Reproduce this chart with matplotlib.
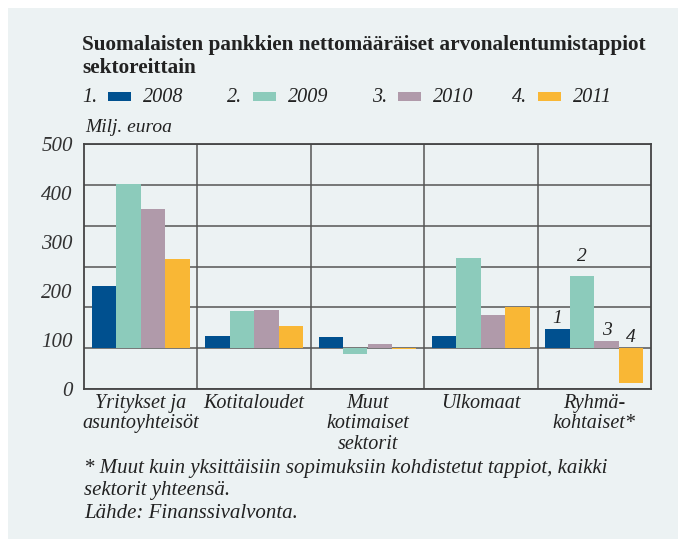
import numpy as np
import matplotlib.pyplot as plt
from matplotlib.patches import Rectangle

sectors = ['Yritykset ja\nasuntoyhteisöt', 'Kotitaloudet', 'Muut\nkotimaiset\nsektorit',
           'Ulkomaat', 'Ryhmä-\nkohtaiset*']
years = ['2008', '2009', '2010', '2011']
v2008 = [152, 29, 27, 29, 47]
v2009 = [402, 91, -15, 220, 176]
v2010 = [340, 93, 10, 81, 17]
v2011 = [218, 54, -3, 100, -86]
tick_labels = ['500', '400', '300', '200', '100', '0']

colors = ['#00508f', '#8ccbbb', '#b09aaa', '#f9b735']
bg = '#ecf2f3'
serif = ['Liberation Serif', 'DejaVu Serif']
plt.rcParams['font.family'] = serif

fig = plt.figure(figsize=(6.78, 5.39), dpi=100)
fig.patch.set_facecolor('white')
fig.patches.append(Rectangle((8 / 678, 0), 1, 1 - 8 / 539, transform=fig.transFigure,
                             facecolor=bg, edgecolor='none', zorder=-10))

ax = fig.add_axes([84 / 678, 1 - 389 / 539, 567 / 678, 245 / 539])
ax.set_facecolor(bg)

x = np.arange(len(sectors))
w = 0.216
series = [v2008, v2009, v2010, v2011]
for i, vals in enumerate(series):
    ax.bar(x + (i - 1.5) * w, vals, w, color=colors[i], zorder=3)

ax.set_xlim(-0.5, len(sectors) - 0.5)
ax.set_ylim(-100, 500)
for y in range(-100, 501, 100):
    ax.axhline(y, color='#555555', lw=1.1, zorder=2)
for b in np.arange(0.5, len(sectors) - 0.5, 1):
    ax.axvline(b, color='#555555', lw=1.1, zorder=2)
for s in ax.spines.values():
    s.set_color('#444444')
    s.set_linewidth(1.3)

# the original prints the labels evenly over the whole frame
ax.set_yticks(np.linspace(500, -100, 6))
ax.set_yticklabels(tick_labels, fontsize=15, style='italic', color='#333333')
ax.tick_params(axis='y', length=0, pad=8)
ax.set_xticks([])
for xi, name in zip(x, sectors):
    ax.text(xi, -112, name, ha='center', va='top', fontsize=14.5, style='italic',
            color='#222222', linespacing=1.1)

# numbers above the last group
offsets = [26, 49, 27, 27]
last = len(sectors) - 1
for i, vals in enumerate(series):
    ax.text(last + (i - 1.5) * w, max(vals[last], 0) + offsets[i], str(i + 1),
            ha='center', va='center', fontsize=14, style='italic', color='#222222')

fig.text(82 / 678, 1 - 45 / 539, 'Suomalaisten pankkien nettomääräiset arvonalentumistappiot',
         fontsize=15.3, fontweight='bold', va='center', color='#222222')
fig.text(82 / 678, 1 - 68 / 539, 'sektoreittain', fontsize=15.3, fontweight='bold',
         va='center', color='#222222')

leg_x = [82, 227, 372, 512]
for i, yr in enumerate(years):
    fig.text(leg_x[i] / 678, 1 - 97 / 539, f'{i + 1}.', fontsize=14.5, style='italic',
             va='center', color='#222222')
    fig.patches.append(Rectangle(((leg_x[i] + 26) / 678, 1 - 101 / 539), 23 / 678, 9 / 539,
                                 transform=fig.transFigure, facecolor=colors[i],
                                 edgecolor='none'))
    fig.text((leg_x[i] + 61) / 678, 1 - 97 / 539, yr, fontsize=14.5, style='italic',
             va='center', color='#222222')

fig.text(85 / 678, 1 - 128 / 539, 'Milj. euroa', fontsize=14, style='italic',
         va='center', color='#222222')

notes = ['* Muut kuin yksittäisiin sopimuksiin kohdistetut tappiot, kaikki',
         'sektorit yhteensä.', 'Lähde: Finanssivalvonta.']
for k, line in enumerate(notes):
    fig.text(84 / 678, 1 - (468 + 23 * k) / 539, line, fontsize=15, style='italic',
             va='center', color='#222222')

fig.savefig('out.png', dpi=100, facecolor=fig.get_facecolor())
